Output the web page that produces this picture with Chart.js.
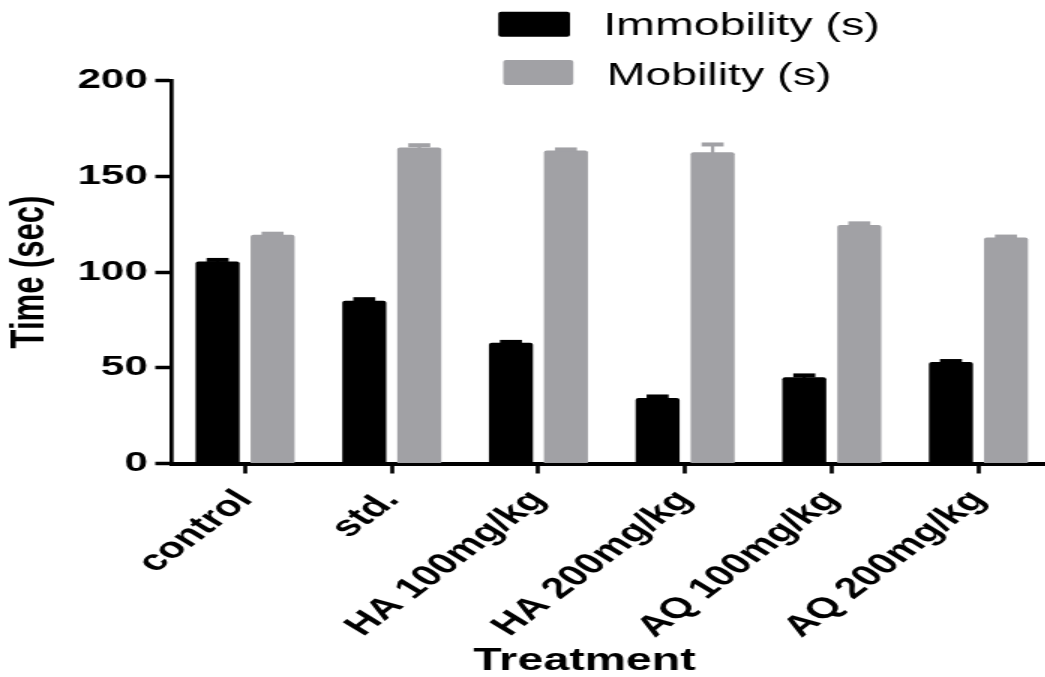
<!DOCTYPE html>
<html><head><meta charset="utf-8">
<script src="https://cdn.jsdelivr.net/npm/chart.js@4.4.1/dist/chart.umd.min.js"></script>
<style>
html,body{margin:0;padding:0;overflow:hidden;background:#fff;width:1045px;height:677px}
#wrap{position:absolute;left:0;top:0;width:702px;height:677px;transform:scaleX(1.5);transform-origin:0 0}
canvas{display:block}
</style></head><body>
<div id="wrap"><canvas id="c" width="702" height="677" style="width:702px;height:677px"></canvas></div>
<script>
const categories = ['control', 'std.', 'HA 100mg/kg', 'HA 200mg/kg', 'AQ 100mg/kg', 'AQ 200mg/kg'];
const immobility = [105.5, 85, 63, 34.2, 45, 53];
const immobilitySEM = [0.8, 0.8, 0.5, 0.8, 1.0, 0.5];
const mobility = [119.5, 165, 163.5, 162.5, 124.6, 118];
const mobilitySEM = [0.5, 1.2, 0.5, 4.1, 0.8, 0.5];
const yTicks = [0, 50, 100, 150, 200];
const seriesLabels = ['Immobility (s)', 'Mobility (s)'];
const xTitle = 'Treatment';
const yTitle = 'Time (sec)';

const FONT = '"Liberation Sans", Arial, sans-serif';
const errors = [immobilitySEM, mobilitySEM];

const errorBars = {
  id: 'errorBars',
  afterDatasetsDraw(chart) {
    const ctx = chart.ctx, ys = chart.scales.y;
    chart.data.datasets.forEach((ds, i) => {
      const meta = chart.getDatasetMeta(i);
      ctx.save();
      ctx.fillStyle = ds.backgroundColor;
      meta.data.forEach((el, j) => {
        const top = ys.getPixelForValue(ds.data[j] + errors[i][j]);
        const w = el.width;
        ctx.fillRect(el.x - 1.1, top, 2.2, el.y - top + 1);
        ctx.fillRect(el.x - w / 4, top - 2, w / 2, 4);
      });
      ctx.restore();
    });
  }
};

const legendLayout = [
  {box: [332.2, 11.7, 47.8, 25], tx: 402.2, ty: 35},
  {box: [335.5, 60, 46.7, 25], tx: 404.4, ty: 85}
];
const customLegend = {
  id: 'customLegend',
  afterDraw(chart) {
    const ctx = chart.ctx;
    ctx.save();
    chart.data.datasets.forEach((ds, i) => {
      const L = legendLayout[i];
      ctx.fillStyle = ds.backgroundColor;
      ctx.beginPath();
      ctx.roundRect(L.box[0], L.box[1], L.box[2], L.box[3], 2);
      ctx.fill();
      ctx.fillStyle = '#000';
      ctx.font = '31px ' + FONT;
      ctx.textAlign = 'left';
      ctx.textBaseline = 'alphabetic';
      ctx.fillText(ds.label, L.tx, L.ty);
    });
    ctx.restore();
  }
};

const xTitlePlugin = {
  id: 'xTitlePlugin',
  afterDraw(chart) {
    const ctx = chart.ctx;
    ctx.save();
    ctx.fillStyle = '#000';
    ctx.font = 'bold 31px ' + FONT;
    ctx.textAlign = 'center';
    ctx.textBaseline = 'alphabetic';
    ctx.fillText(xTitle, 389.7, 670);
    ctx.restore();
  }
};

new Chart(document.getElementById('c'), {
  type: 'bar',
  data: {
    labels: categories,
    datasets: [
      {label: seriesLabels[0], data: immobility, backgroundColor: '#000000', borderRadius: 2,
       categoryPercentage: 0.75, barPercentage: 0.8},
      {label: seriesLabels[1], data: mobility, backgroundColor: '#a1a1a5', borderRadius: 2,
       categoryPercentage: 0.75, barPercentage: 0.8}
    ]
  },
  options: {
    responsive: false,
    animation: false,
    devicePixelRatio: 1,
    layout: {padding: {left: 0, right: 0.8, top: 80.5, bottom: 0}},
    plugins: {legend: {display: false}, tooltip: {enabled: false}},
    scales: {
      x: {
        offset: true,
        grid: {offset: false, drawOnChartArea: false, drawTicks: true, tickLength: 10, tickWidth: 2.7, color: '#000'},
        border: {display: true, width: 4, color: '#000'},
        ticks: {autoSkip: false, maxRotation: 48, minRotation: 48, padding: 10, color: '#000',
                font: {family: FONT, weight: 'bold', size: 29}},
        afterFit(s) { s.height = 213.5; }
      },
      y: {
        min: 0, max: 200,
        afterBuildTicks(s) { s.ticks = yTicks.map(v => ({value: v})); },
        grid: {drawOnChartArea: false, drawTicks: true, tickLength: 11, tickWidth: 3.5, color: '#000'},
        border: {display: true, width: 2.7, color: '#000'},
        ticks: {padding: 5, color: '#000', font: {family: FONT, weight: 'bold', size: 28}},
        title: {display: true, text: yTitle, color: '#000', padding: {top: 2, bottom: 0},
                font: {family: FONT, weight: 'bold', size: 31}},
        afterFit(s) { s.width = 114.5; }
      }
    }
  },
  plugins: [errorBars, customLegend, xTitlePlugin]
});
</script>
</body></html>
